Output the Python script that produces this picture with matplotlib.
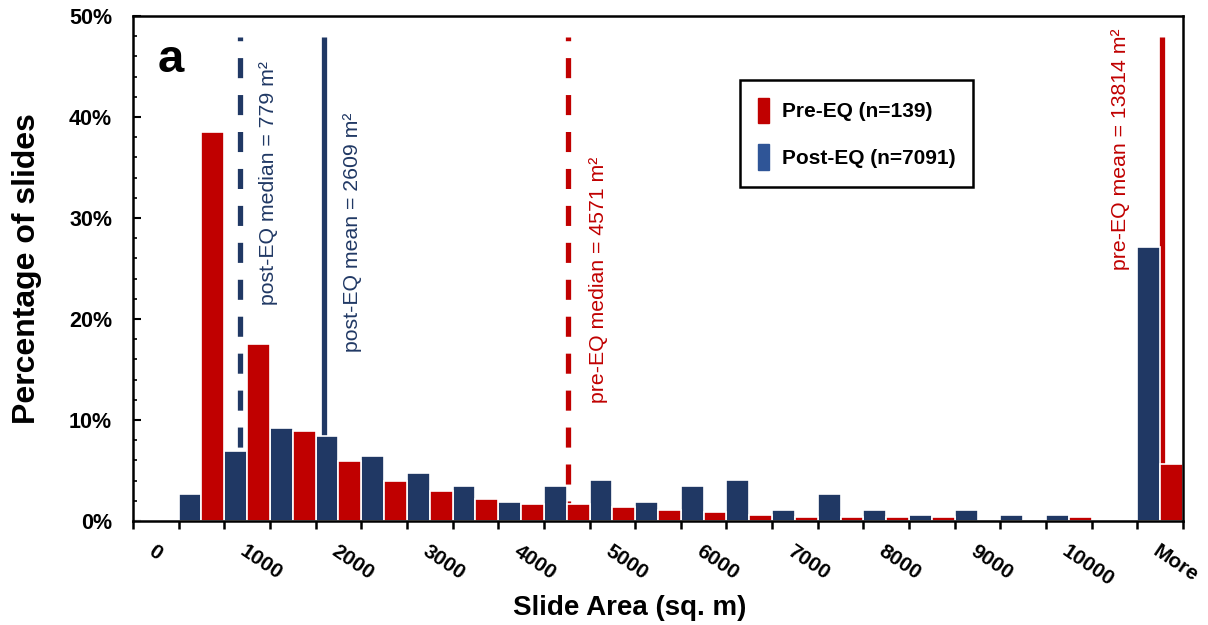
import numpy as np
import matplotlib
matplotlib.use("Agg")
import matplotlib.pyplot as plt
from matplotlib.patches import Patch
from matplotlib.ticker import FuncFormatter, MultipleLocator

plt.rcParams["font.family"] = ["Liberation Sans", "DejaVu Sans"]

# --- data (percent of slides per 500 m^2 bin) ---
categories = ["0", "500", "1000", "1500", "2000", "2500", "3000", "3500",
              "4000", "4500", "5000", "5500", "6000", "6500", "7000", "7500",
              "8000", "8500", "9000", "9500", "10000", "10500", "More"]
post_eq = [0, 2.7, 6.9, 9.2, 8.4, 6.4, 4.8, 3.5, 1.9, 3.5, 4.1, 1.9, 3.5,
           4.1, 1.1, 2.7, 1.1, 0.6, 1.1, 0.6, 0.6, 0, 27.1]
pre_eq = [0, 38.5, 17.5, 8.9, 5.9, 4.0, 3.0, 2.2, 1.7, 1.7, 1.4, 1.1, 0.9,
          0.6, 0.35, 0.35, 0.35, 0.35, 0, 0, 0.35, 0, 5.6]

# reference lines: (position on category axis, label, style)
ref_lines = [
    (1.84, "post-EQ median = 779 m²", "dash"),
    (3.68, "post-EQ mean = 2609 m²", "solid"),
    (9.03, "pre-EQ median = 4571 m²", "dash"),
    (22.04, "pre-EQ mean = 13814 m²", "solid"),
]
label_pos = [(2.46, 45.5), (4.30, 40.4), (9.69, 36.1), (21.12, 48.8)]

NAVY = "#203864"
RED = "#C00000"
LEG_BLUE = "#2F5597"
line_cols = [NAVY, NAVY, RED, RED]

fig = plt.figure(figsize=(12.08, 6.25), dpi=100)
ax = fig.add_axes([133 / 1208, 104 / 625, 1050 / 1208, 505 / 625])

x = np.arange(len(categories))
ax.bar(x - 0.25, post_eq, width=0.5, color=NAVY, edgecolor="white",
       linewidth=1.2, zorder=3)
ax.bar(x + 0.25, pre_eq, width=0.5, color=RED, edgecolor="white",
       linewidth=1.2, zorder=3)

for (xp, txt, sty), (tx, ty), col in zip(ref_lines, label_pos, line_cols):
    ln, = ax.plot([xp, xp], [0, 47.9], color=col, lw=3.8, zorder=2,
                  solid_capstyle="butt")
    if sty == "dash":
        ln.set_dashes((3.8, 3.2))
    ax.text(tx, ty, txt, rotation=90, ha="center", va="top", color=col,
            fontsize=15.3, zorder=4)

ax.text(0.33, 47.8, "a", fontsize=34, fontweight="bold", va="top", ha="center")

ax.set_xlim(-0.5, len(categories) - 0.5)
ax.set_ylim(0, 50)

# x: tick marks on bin boundaries, labels every other bin
ax.set_xticks(np.arange(-0.5, len(categories)), minor=True)
ax.set_xticks(x[::2])
ax.set_xticklabels(categories[::2], rotation=-34, ha="left", va="top",
                   rotation_mode="anchor", fontsize=15, fontweight="bold")
ax.tick_params(axis="x", which="major", length=0, pad=15)
ax.tick_params(axis="x", which="minor", length=6, width=1.8, direction="out")

ax.yaxis.set_major_locator(MultipleLocator(10))
ax.yaxis.set_minor_locator(MultipleLocator(2))
ax.yaxis.set_major_formatter(FuncFormatter(lambda v, p: f"{v:.0f}%"))
ax.tick_params(axis="y", which="major", length=6, width=1.5, direction="in",
               pad=15, labelsize=15.5)
ax.tick_params(axis="y", which="minor", length=3, width=1.2, direction="in")
for lab in ax.get_yticklabels():
    lab.set_fontweight("bold")

for s in ax.spines.values():
    s.set_linewidth(1.8)
    s.set_zorder(5)

ax.set_ylabel("Percentage of slides", fontsize=23, fontweight="bold")
ax.set_xlabel("Slide Area (sq. m)", fontsize=20, fontweight="bold")
ax.yaxis.set_label_coords(-0.087, 0.5)
ax.xaxis.set_label_coords(0.473, -0.147)

handles = [Patch(color=RED, label="Pre-EQ (n=139)"),
           Patch(color=LEG_BLUE, label="Post-EQ (n=7091)")]
leg = ax.legend(handles=handles, loc="upper left",
                bbox_to_anchor=(0.578, 0.873), fancybox=False,
                edgecolor="black", framealpha=1, handlelength=0.55,
                handleheight=1.5, handletextpad=0.6, labelspacing=1.0,
                borderpad=0.85, borderaxespad=0,
                prop={"size": 15, "weight": "bold"})
leg.get_frame().set_linewidth(1.8)

fig.savefig("out.png", dpi=100)
